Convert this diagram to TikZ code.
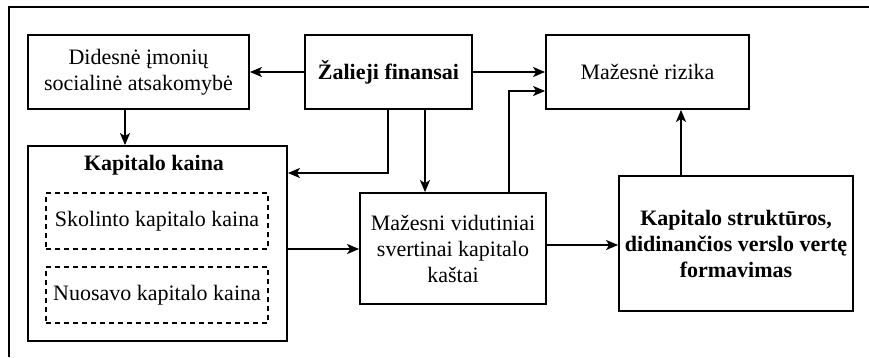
\documentclass[tikz,border=0pt]{standalone}
\usepackage{fontspec}
\setmainfont{Liberation Serif}
\usetikzlibrary{arrows.meta}
\begin{document}
\begin{tikzpicture}[x=1pt,y=-1pt,
  every node/.style={font=\fontsize{22}{26}\selectfont},
  box/.style={draw,line width=1.8pt,rectangle,inner sep=0pt,align=center},
  dbox/.style={draw,line width=1.6pt,dash pattern=on 5pt off 4pt,rectangle,inner sep=0pt,align=center},
  arr/.style={line width=1.7pt,-{Stealth[length=12pt,width=10pt,inset=3pt]}},
  frameline/.style={line width=1.8pt}]
\useasboundingbox (0,0) rectangle (869,357);
% outer frame
\draw[frameline] (9,357) -- (9,7) -- (869,7);
% boxes
\node[box,minimum width=221pt,minimum height=74pt] (did) at (138.5,72) {Didesnė įmonių\\socialinė atsakomybė};
\node[box,minimum width=167pt,minimum height=74pt] (zal) at (388.5,72) {\textbf{Žalieji finansai}};
\node[box,minimum width=203pt,minimum height=74pt] (riz) at (647.5,72) {Mažesnė rizika};
\node[box,minimum width=259pt,minimum height=195pt] (kk) at (157.5,243.5) {};
\node (kktitle) at (154,165) {\textbf{Kapitalo kaina}};
\node[dbox,minimum width=222pt,minimum height=56pt] (sk) at (157,221) {Skolinto kapitalo kaina};
\node[dbox,minimum width=222pt,minimum height=56pt] (nu) at (157,295) {Nuosavo kapitalo kaina};
\node[box,minimum width=186pt,minimum height=111pt] (maz) at (453,248.5) {Mažesni vidutiniai\\svertinai kapitalo\\kaštai};
\node[box,minimum width=234pt,minimum height=135pt] (ks) at (736,243.5) {\textbf{Kapitalo struktūros,}\\\textbf{didinančios verslo vertę}\\\textbf{formavimas}};
% connectors
\draw[arr] (zal.west) -- (did.east);
\draw[arr] (zal.east) -- (riz.west);
\draw[arr] (did.south -| 125,0) -- (kk.north -| 125,0);
\draw[arr] (zal.south -| 388,0) |- (kk.east |- 0,173);
\draw[arr] (zal.south -| 425,0) -- (maz.north -| 425,0);
\draw[arr] (maz.north -| 509,0) |- (riz.west |- 0,91);
\draw[arr] (kk.east |- 0,249) -- (maz.west |- 0,249);
\draw[arr] (maz.east |- 0,245) -- (ks.west |- 0,245);
\draw[arr] (ks.north -| 681,0) -- (riz.south -| 681,0);
\end{tikzpicture}
\end{document}
